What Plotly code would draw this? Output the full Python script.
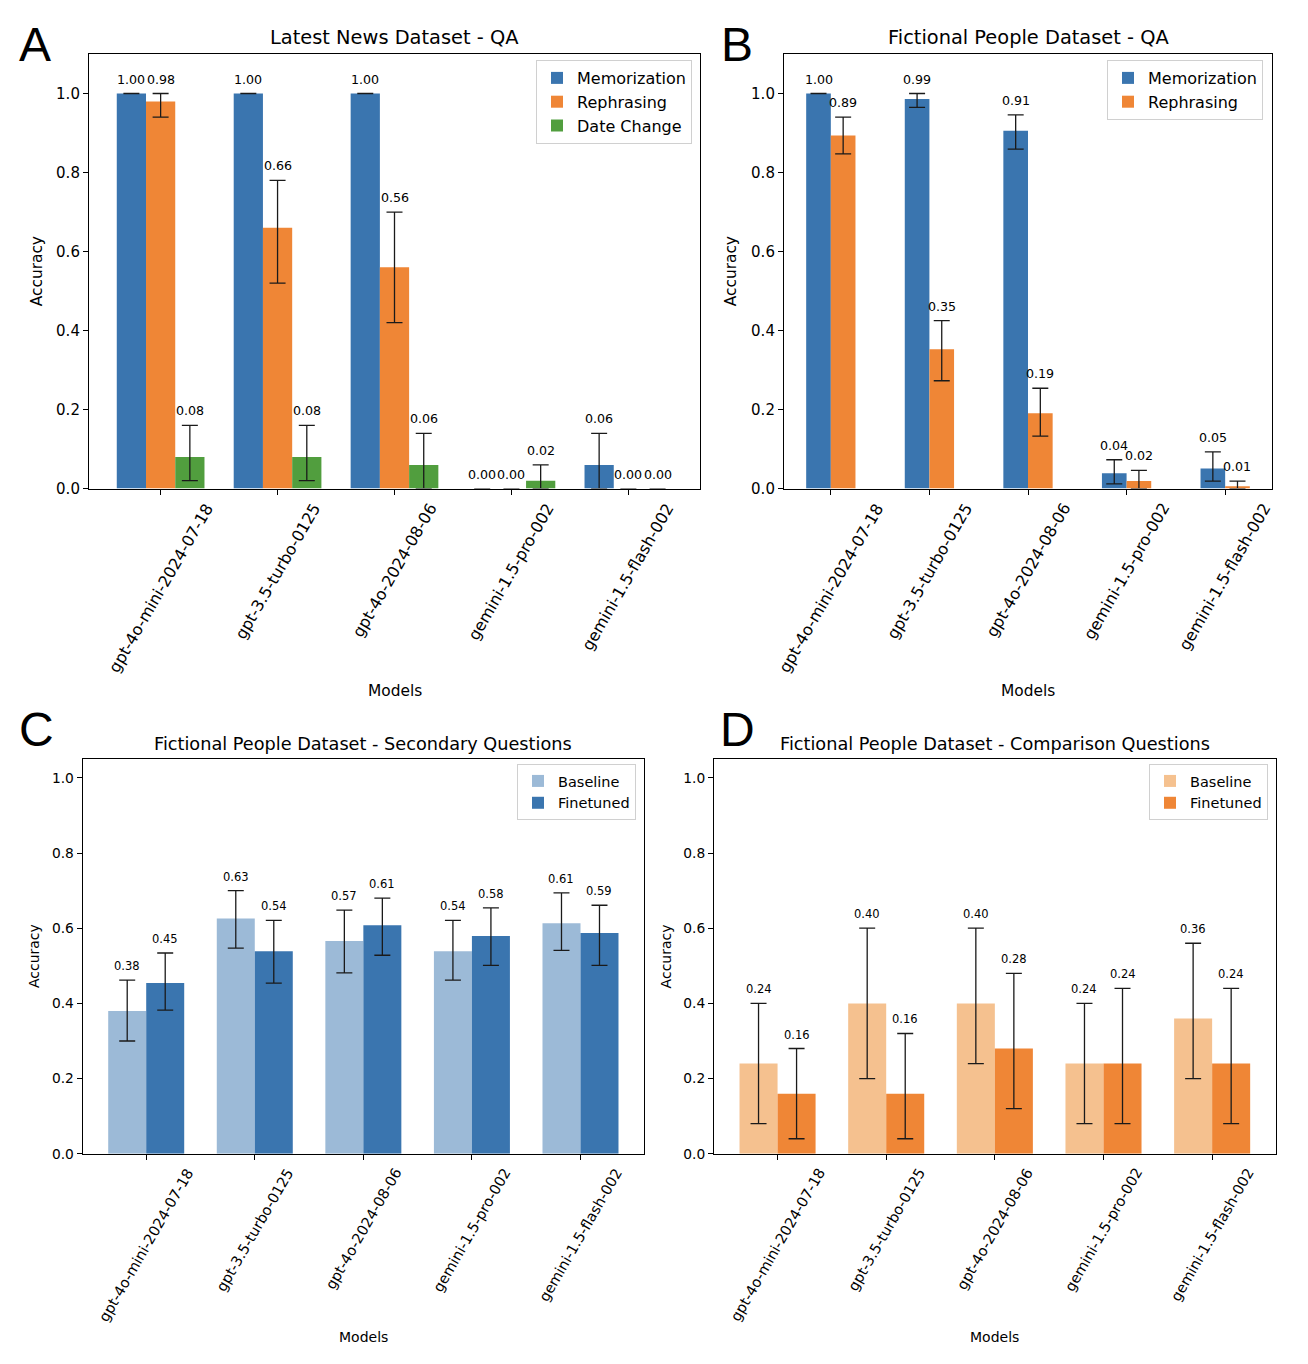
import plotly.graph_objects as go

W, H = 1308, 1364

models = ["gpt-4o-mini-2024-07-18", "gpt-3.5-turbo-0125", "gpt-4o-2024-08-06",
          "gemini-1.5-pro-002", "gemini-1.5-flash-002"]

# Panel A: Latest News Dataset - QA
a_mem = [1.00, 1.00, 1.00, 0.00, 0.06]
a_mem_lo = [1.00, 1.00, 1.00, 0.00, 0.00]
a_mem_hi = [1.00, 1.00, 1.00, 0.00, 0.14]
a_reph = [0.98, 0.66, 0.56, 0.00, 0.00]
a_reph_lo = [0.94, 0.52, 0.42, 0.00, 0.00]
a_reph_hi = [1.00, 0.78, 0.70, 0.00, 0.00]
a_date = [0.08, 0.08, 0.06, 0.02, 0.00]
a_date_lo = [0.02, 0.02, 0.00, 0.00, 0.00]
a_date_hi = [0.16, 0.16, 0.14, 0.06, 0.00]

# Panel B: Fictional People Dataset - QA
b_mem = [1.00, 0.986, 0.906, 0.039, 0.051]
b_mem_lo = [1.00, 0.965, 0.859, 0.012, 0.019]
b_mem_hi = [1.00, 1.00, 0.946, 0.073, 0.093]
b_reph = [0.894, 0.353, 0.191, 0.019, 0.006]
b_reph_lo = [0.847, 0.273, 0.133, 0.00, 0.00]
b_reph_hi = [0.940, 0.425, 0.254, 0.046, 0.019]

# Panel C: Secondary Questions
c_base = [0.38, 0.626, 0.566, 0.539, 0.613]
c_base_lo = [0.30, 0.547, 0.481, 0.462, 0.541]
c_base_hi = [0.462, 0.70, 0.648, 0.621, 0.694]
c_ft = [0.454, 0.539, 0.608, 0.579, 0.587]
c_ft_lo = [0.382, 0.454, 0.528, 0.501, 0.501]
c_ft_hi = [0.534, 0.621, 0.680, 0.654, 0.661]

# Panel D: Comparison Questions
d_base = [0.24, 0.40, 0.40, 0.24, 0.36]
d_base_lo = [0.08, 0.20, 0.24, 0.08, 0.20]
d_base_hi = [0.40, 0.60, 0.60, 0.40, 0.56]
d_ft = [0.16, 0.16, 0.28, 0.24, 0.24]
d_ft_lo = [0.04, 0.04, 0.12, 0.08, 0.08]
d_ft_hi = [0.28, 0.32, 0.48, 0.44, 0.44]

BLUE = "#3a75af"
ORANGE = "#ef8636"
GREEN = "#519e3e"
LBLUE = "#9cbad7"
LORANGE = "#f5c18f"
FONT = "DejaVu Sans"

panels = [
    dict(letter="A", title="Latest News Dataset - QA", n="",
         box=(89, 700, 54, 488.6), ymax=1.1, w=0.25, legend="legend",
         leg=(692, 60), big=True, letterpos=(35, 45), ytitle_dx=-52, models_dy=-202,
         series=[("Memorization", a_mem, a_mem_lo, a_mem_hi, BLUE),
                 ("Rephrasing", a_reph, a_reph_lo, a_reph_hi, ORANGE),
                 ("Date Change", a_date, a_date_lo, a_date_hi, GREEN)]),
    dict(letter="B", title="Fictional People Dataset - QA", n="2",
         box=(784, 1272, 54, 488.6), ymax=1.1, w=0.25, legend="legend2",
         leg=(1263, 60), big=True, letterpos=(737, 45), ytitle_dx=-53, models_dy=-202,
         series=[("Memorization", b_mem, b_mem_lo, b_mem_hi, BLUE),
                 ("Rephrasing", b_reph, b_reph_lo, b_reph_hi, ORANGE)]),
    dict(letter="C", title="Fictional People Dataset - Secondary Questions", n="3",
         box=(82.7, 644, 759, 1153.8), ymax=1.05, w=0.35, legend="legend3",
         leg=(636, 764), big=False, letterpos=(36, 729), ytitle_dx=-48, models_dy=-183,
         series=[("Baseline", c_base, c_base_lo, c_base_hi, LBLUE),
                 ("Finetuned", c_ft, c_ft_lo, c_ft_hi, BLUE)]),
    dict(letter="D", title="Fictional People Dataset - Comparison Questions", n="4",
         box=(714, 1275.7, 759, 1153.8), ymax=1.05, w=0.35, legend="legend4",
         leg=(1268, 764), big=False, letterpos=(738, 729), ytitle_dx=-48, models_dy=-183,
         series=[("Baseline", d_base, d_base_lo, d_base_hi, LORANGE),
                 ("Finetuned", d_ft, d_ft_lo, d_ft_hi, ORANGE)]),
]

fig = go.Figure()
annotations = []
layout = dict(
    width=W, height=H,
    margin=dict(l=0, r=0, t=0, b=0, pad=0, autoexpand=False),
    paper_bgcolor="white", plot_bgcolor="white", template="none",
    barmode="overlay", font=dict(family=FONT, color="black"),
)

for p in panels:
    n = p["n"]
    xa, ya = "x" + n, "y" + n
    x0, x1, y0, y1 = p["box"]
    big = p["big"]
    s = 1.1 if big else 1.0
    w = p["w"]
    k = len(p["series"])
    span = (len(models) - 1) + k * w
    lo_r = -k * w / 2 - 0.05 * span
    hi_r = (len(models) - 1) + k * w / 2 + 0.05 * span

    for j, (name, vals, lo, hi, col) in enumerate(p["series"]):
        center = (j - (k - 1) / 2) * w
        plus = [h - v for v, h in zip(vals, hi)]
        minus = [v - l for v, l in zip(vals, lo)]
        fig.add_trace(go.Bar(
            x=models, y=vals, name=name, xaxis=xa, yaxis=ya,
            width=w, offset=center - w / 2,
            marker=dict(color=col, line=dict(width=0)),
            legend=p["legend"],
            error_y=dict(type="data", symmetric=False, array=plus, arrayminus=minus,
                         color="#1a1a1a", thickness=1.3, width=8),
        ))
        for i, (v, h) in enumerate(zip(vals, hi)):
            annotations.append(dict(
                x=i + center, xref=xa, y=h, yref=ya, text=f"{v:.2f}",
                showarrow=False, yanchor="bottom", xanchor="center", yshift=5,
                font=dict(size=11.5 * s, family=FONT, color="black"),
            ))

    # category tick labels (rotated 60 deg, centered on tick like matplotlib)
    for i, m in enumerate(models):
        annotations.append(dict(
            x=i, xref=xa, y=0, yref=ya + " domain", text=m, textangle=-60,
            showarrow=False, xanchor="center", yanchor="top", yshift=-9,
            font=dict(size=(16 if big else 14.5), family=FONT, color="black"),
        ))

    # titles
    annotations.append(dict(
        x=0.5, xref=xa + " domain", y=1, yref=ya + " domain", text=p["title"],
        showarrow=False, xanchor="center", yanchor="bottom", yshift=3,
        font=dict(size=(19.4 if big else 17.7), family=FONT, color="black"),
    ))
    annotations.append(dict(
        x=0.5, xref=xa + " domain", y=0, yref=ya + " domain", text="Models",
        showarrow=False, xanchor="center", yanchor="middle", yshift=p["models_dy"],
        font=dict(size=14 * s, family=FONT, color="black"),
    ))
    annotations.append(dict(
        x=0, xref=xa + " domain", y=0.5, yref=ya + " domain", text="Accuracy",
        textangle=-90, showarrow=False, xanchor="center", yanchor="middle",
        xshift=p["ytitle_dx"],
        font=dict(size=14 * s, family=FONT, color="black"),
    ))
    lx, ly = p["letterpos"]
    annotations.append(dict(
        x=lx / W, xref="paper", y=1 - ly / H, yref="paper", text=p["letter"],
        showarrow=False, xanchor="center", yanchor="middle",
        font=dict(size=48, family="Liberation Sans", color="black"),
    ))

    axis_common = dict(showline=True, linecolor="black", linewidth=1.1, mirror=True,
                       showgrid=False, zeroline=False, ticks="outside", ticklen=5,
                       tickwidth=1.1, tickcolor="black", automargin=False)
    layout["xaxis" + n] = dict(
        domain=[x0 / W, x1 / W], anchor=ya, type="category",
        range=[lo_r, hi_r], showticklabels=False, **axis_common)
    layout["yaxis" + n] = dict(
        domain=[1 - y1 / H, 1 - y0 / H], anchor=xa, range=[0, p["ymax"]],
        tickvals=[0, 0.2, 0.4, 0.6, 0.8, 1.0], tickformat=".1f",
        tickfont=dict(size=(15 if big else 13.8), family=FONT, color="black"),
        **axis_common)
    lgx, lgy = p["leg"]
    layout[p["legend"]] = dict(
        x=lgx / W, xanchor="right", y=1 - lgy / H, yanchor="top",
        xref="paper", yref="paper", bgcolor="rgba(255,255,255,0.85)",
        bordercolor="#d0d0d0", borderwidth=1,
        font=dict(size=(16 if big else 14.5), family=FONT, color="black"),
        tracegroupgap=0,
    )

layout["annotations"] = annotations
fig.update_layout(**layout)
fig.write_html("out.html")
